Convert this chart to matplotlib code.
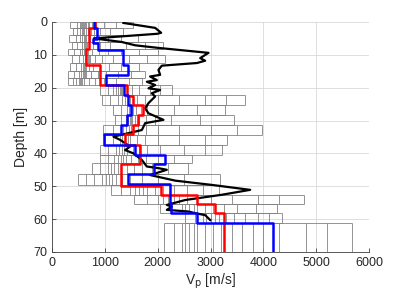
import numpy as np
import matplotlib
matplotlib.use("Agg")
import matplotlib.pyplot as plt

# ---- gray ensemble: layer boundaries [m] and velocities [m/s] in each layer ----
gray_top = [0, 1.8, 3.9, 6.1, 8.1, 10.1, 12.5, 15, 17, 19.2, 22.2, 25.3, 28.3,
            31.3, 34.4, 37.4, 40.5, 43, 46.2, 49.5, 52.6, 55.4, 58.2, 61.3]
gray_bot = gray_top[1:] + [70]
gray_vel = [
    [340, 470, 520, 545, 560, 580, 600, 630, 650, 670, 700, 760, 830, 980, 1200, 1540],
    [400, 480, 530, 560, 590, 610, 650, 680, 740, 800, 900, 1100, 1350],
    [320, 450, 530, 570, 600, 625, 650, 690, 720, 790, 880, 1050, 1300, 1630],
    [370, 480, 560, 600, 620, 640, 660, 700, 780, 900, 1100, 1400, 1750, 2100],
    [310, 420, 520, 560, 600, 620, 640, 680, 760, 880, 1050, 1300, 1650, 2010],
    [370, 500, 580, 620, 650, 670, 690, 720, 820, 950, 1150, 1450, 1800, 2140],
    [340, 460, 540, 580, 610, 630, 650, 690, 780, 900, 1080, 1300, 1640],
    [310, 420, 500, 540, 580, 600, 620, 650, 740, 860, 1020, 1250, 1500, 1760],
    [300, 400, 460, 500, 520, 540, 560, 600, 700, 820, 980, 1200, 1450, 1700],
    [909, 1050, 1150, 1200, 1250, 1280, 1300, 1330, 1420, 1520, 1650, 1850, 2050, 2266],
    [953, 1100, 1250, 1320, 1380, 1430, 1480, 1600, 1750, 2000, 2400, 2900, 3300, 3654],
    [1161, 1300, 1420, 1460, 1500, 1520, 1540, 1580, 1680, 1800, 2000, 2300, 2750, 3275],
    [1193, 1300, 1400, 1440, 1480, 1500, 1520, 1560, 1650, 1780, 1950, 2250, 2800, 3433],
    [972, 1150, 1300, 1350, 1400, 1450, 1500, 1620, 1780, 2000, 2400, 3000, 3500, 3970],
    [1003, 1150, 1280, 1330, 1380, 1430, 1480, 1600, 1750, 2000, 2400, 2900, 3307],
    [909, 1050, 1200, 1260, 1320, 1370, 1420, 1530, 1650, 1800, 2050, 2500, 2900, 3212],
    [909, 1050, 1180, 1240, 1300, 1350, 1400, 1500, 1620, 1780, 2000, 2300, 2645],
    [750, 900, 1050, 1120, 1180, 1240, 1300, 1420, 1550, 1700, 1900, 2200, 2580],
    [498, 650, 800, 950, 1020, 1080, 1140, 1200, 1330, 1480, 1700, 2000, 2500, 3180],
    [1111, 1300, 1480, 1560, 1650, 1720, 1800, 1950, 2100, 2300, 2550, 2850, 3150],
    [1559, 1800, 2000, 2100, 2200, 2300, 2400, 2550, 2750, 3000, 3400, 3900, 4300, 4760],
    [2045, 2250, 2450, 2520, 2600, 2680, 2750, 2900, 3050, 3250, 3500, 3850, 4254],
    [2518, 2700, 2850, 2920, 3000, 3080, 3150, 3300, 3450, 3650, 3900, 4100, 4349],
    [2127, 2300, 2450, 2520, 2600, 2680, 2750, 2900, 3050, 3200, 3400, 3600, 3800,
     4000, 4300, 4800, 5200, 5675],
]

# ---- red model ----
red_top = [0, 1.8, 8.2, 13.1, 19.2, 22.5, 25.3, 28.3, 31.3, 34.0, 37.4, 43.2,
           50.0, 52.6, 55.4, 58.3]
red_vel = [814, 705, 645, 900, 1414, 1530, 1720, 1634, 1540, 1382, 1667, 1300,
           2058, 2739, 3087, 3250]

# ---- blue model ----
blue_top = [0, 1.8, 5.2, 6.5, 8.4, 13.0, 16.1, 19.2, 22.2, 25.3, 28.3, 31.3,
            34.2, 37.4, 40.5, 43.3, 46.3, 49.3, 55.2, 58.2, 61.3]
blue_vel = [800, 846, 770, 877, 1350, 1445, 1022, 1369, 1432, 1495, 1414, 1300,
            985, 1571, 2140, 1919, 1445, 2230, 2250, 2739, 4172]

# ---- black profile ----
black_depth = [0.3, 1.8, 3.3, 3.6, 5.0, 6.1, 7.1, 7.9, 9.4, 11.0, 11.8, 12.5, 13.3,
               14.6, 16.1, 16.6, 17.7, 18.2, 19.2, 20.2, 20.7, 21.7, 22.7, 24.7,
               26.3, 27.8, 29.8, 30.8, 32.9, 34.9, 35.9, 37.9, 39.0, 40.0, 42.0,
               44.0, 44.5, 45.0, 46.6, 48.3, 49.6, 51.1, 52.6, 54.2, 55.7, 56.2,
               57.2, 57.7, 58.2, 58.8, 60.3]
black_vel = [1350, 1950, 2064, 1990, 790, 1319, 1571, 2013, 2960, 2803, 2897, 2740,
             2077, 2013, 2045, 1855, 1982, 1793, 1950, 1824, 2045, 1887, 1950, 1824,
             1761, 1824, 2108, 1761, 1698, 1161, 1288, 1477, 1382, 1540, 1698,
             1793, 2013, 2171, 1856, 2330, 3023, 3748, 3212, 2518, 2171, 2266,
             2171, 2580, 2707, 2897, 2992]


def staircase(tops, vels, zmax=70):
    bots = list(tops[1:]) + [zmax]
    z = np.column_stack([tops, bots]).ravel()
    v = np.repeat(vels, 2)
    return v, z


fig = plt.figure(figsize=(4.07, 3.05), dpi=100)
ax = fig.add_axes([0.128, 0.174, 0.779, 0.754])

fonts = ['Liberation Sans', 'DejaVu Sans']

gcol = '0.5'
for top, bot, vels in zip(gray_top, gray_bot, gray_vel):
    ax.vlines(vels, top, bot, colors=gcol, linewidth=0.7, alpha=0.85, zorder=2)
    ax.hlines([top, bot], min(vels), max(vels), colors=gcol, linewidth=0.7,
              alpha=0.85, zorder=2)

ax.plot(black_vel, black_depth, color='k', linewidth=1.6, zorder=4)

v, z = staircase(red_top, red_vel)
ax.plot(v, z, color='red', linewidth=1.8, zorder=5)
v, z = staircase(blue_top, blue_vel)
ax.plot(v, z, color='blue', linewidth=1.8, zorder=6)

ax.set_xlim(0, 6000)
ax.set_ylim(70, 0)
ax.set_xticks(np.arange(0, 6001, 1000))
ax.set_yticks(np.arange(0, 71, 10))
ax.grid(True, color='0.85', linewidth=0.6, zorder=0)
ax.set_axisbelow(True)
for s in ['top', 'right']:
    ax.spines[s].set_visible(False)
for s in ['left', 'bottom']:
    ax.spines[s].set_color('0.25')
    ax.spines[s].set_linewidth(0.6)
ax.tick_params(direction='in', length=3, width=0.6, color='0.25',
               labelsize=9, labelcolor='0.15')
for lab in ax.get_xticklabels() + ax.get_yticklabels():
    lab.set_family(fonts)

ax.set_xlabel(r'V$_\mathrm{p}$ [m/s]', fontsize=10, color='0.15',
              family=fonts, labelpad=2)
ax.set_ylabel('Depth [m]', fontsize=10, color='0.15', family=fonts, labelpad=4)

fig.savefig('out.png', dpi=100)
